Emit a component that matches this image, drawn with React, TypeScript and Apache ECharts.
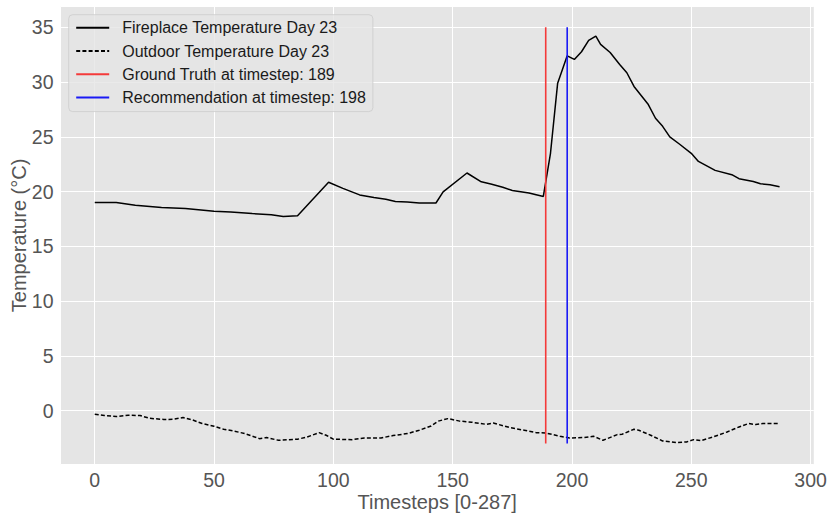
import React, { useEffect, useRef } from "react";
import * as echarts from "echarts";

const fireX = [0, 9, 17, 28, 38, 50, 57, 66, 74, 79, 85, 98, 104, 111, 117, 122, 126, 131, 136, 143, 146, 156, 162, 166, 171, 175, 182, 188, 191, 194, 198, 201, 204, 207, 210, 212, 216, 220, 223, 226, 232, 235, 238, 241, 245, 250, 253, 260, 267, 270, 276, 279, 283, 287];
const fireY = [19.0, 19.0, 18.75, 18.56, 18.47, 18.2, 18.13, 18.0, 17.9, 17.73, 17.8, 20.86, 20.3, 19.7, 19.46, 19.3, 19.1, 19.05, 18.96, 18.96, 19.98, 21.7, 20.9, 20.7, 20.4, 20.1, 19.87, 19.56, 23.5, 29.9, 32.4, 32.07, 32.77, 33.8, 34.2, 33.44, 32.7, 31.6, 30.85, 29.6, 27.95, 26.7, 25.96, 25.0, 24.35, 23.5, 22.76, 21.94, 21.55, 21.18, 20.93, 20.72, 20.63, 20.45];

const outX = [0, 4, 9, 14, 19, 23, 29, 33, 37, 41, 45, 50, 54, 58, 63, 69, 72, 77, 85, 89, 94, 97, 100, 108, 113, 120, 125, 131, 136, 141, 144, 148, 153, 158, 164, 167, 174, 180, 185, 189, 195, 199, 205, 209, 213, 219, 221, 226, 228, 233, 238, 244, 248, 251, 254, 259, 265, 270, 274, 277, 280, 287];
const outY = [-0.32, -0.44, -0.53, -0.41, -0.44, -0.69, -0.8, -0.78, -0.62, -0.84, -1.17, -1.42, -1.69, -1.84, -2.09, -2.55, -2.45, -2.7, -2.6, -2.4, -2.0, -2.24, -2.6, -2.64, -2.49, -2.49, -2.27, -2.09, -1.78, -1.39, -0.95, -0.72, -0.95, -1.05, -1.24, -1.12, -1.54, -1.78, -2.0, -2.03, -2.33, -2.49, -2.45, -2.33, -2.7, -2.18, -2.15, -1.69, -1.78, -2.24, -2.76, -2.91, -2.85, -2.64, -2.73, -2.4, -1.94, -1.48, -1.17, -1.26, -1.17, -1.17];

const groundTruthStep = 189;
const recommendStep = 198;
const vlineSpan = [-3, 35];

const seriesNames = [
  "Fireplace Temperature Day 23",
  "Outdoor Temperature Day 23",
  "Ground Truth at timestep: 189",
  "Recommendation at timestep: 198",
];

const xLabel = "Timesteps [0-287]";
const yLabel = "Temperature (°C)";

const FONT = "'Liberation Sans', Arial, sans-serif";

export default function App() {
  const ref = useRef<HTMLDivElement>(null);
  useEffect(() => {
    document.body.style.margin = "0";
    const chart = echarts.init(ref.current!, null, { renderer: "svg" });
    const zip = (xs: number[], ys: number[]) => xs.map((x, i) => [x, ys[i]]);
    const hiddenSymbol = { opacity: 0, borderWidth: 0 };
    chart.setOption({
      animation: false,
      backgroundColor: "#ffffff",
      textStyle: { fontFamily: FONT },
      grid: {
        left: 60.5,
        top: 6.5,
        width: 753.3,
        height: 457.9,
        backgroundColor: "#E5E5E5",
        show: true,
        borderWidth: 0,
        containLabel: false,
        outerBoundsMode: "none",
      },
      legend: {
        data: seriesNames,
        orient: "vertical",
        left: 68.7,
        top: 14.7,
        padding: [5, 7, 6, 6.5],
        itemWidth: 33,
        itemHeight: 16,
        itemGap: 7.3,
        backgroundColor: "rgba(229,229,229,0.8)",
        borderColor: "rgba(204,204,204,0.8)",
        borderWidth: 1,
        borderRadius: 4,
        itemStyle: { opacity: 0, borderWidth: 0 },
        textStyle: {
          fontSize: 16,
          lineHeight: 16,
          color: "#1a1a1a",
          fontFamily: FONT,
          padding: [0, 0, 0, 8],
        },
      },
      xAxis: {
        type: "value",
        min: -14.35,
        max: 301.35,
        minInterval: 50,
        maxInterval: 50,
        axisLine: { show: false },
        axisTick: { show: false },
        splitLine: { show: true, lineStyle: { color: "#ffffff", width: 1 } },
        axisLabel: {
          showMinLabel: false,
          showMaxLabel: false,
          color: "#555555",
          fontSize: 19.5,
          fontFamily: FONT,
          margin: 6,
        },
        name: xLabel,
        nameLocation: "middle",
        nameGap: 28,
        nameMoveOverlap: false,
        nameTextStyle: { color: "#555555", fontSize: 20, fontFamily: FONT },
      },
      yAxis: {
        type: "value",
        min: -4.9,
        max: 36.9,
        minInterval: 5,
        maxInterval: 5,
        axisLine: { show: false },
        axisTick: { show: false },
        splitLine: { show: true, lineStyle: { color: "#ffffff", width: 1 } },
        axisLabel: {
          showMinLabel: false,
          showMaxLabel: false,
          color: "#555555",
          fontSize: 19.5,
          fontFamily: FONT,
          margin: 7,
        },
        name: yLabel,
        nameLocation: "middle",
        nameGap: 32,
        nameMoveOverlap: false,
        nameTextStyle: { color: "#555555", fontSize: 20, fontFamily: FONT },
      },
      series: [
        {
          name: seriesNames[0],
          type: "line",
          data: zip(fireX, fireY),
          symbol: "none",
          lineStyle: { color: "#000000", width: 1.5 },
          itemStyle: { color: "#000000", ...hiddenSymbol },
          z: 3,
        },
        {
          name: seriesNames[1],
          type: "line",
          data: zip(outX, outY),
          symbol: "none",
          lineStyle: { color: "#000000", width: 1.5, type: [4, 2.2] },
          itemStyle: { color: "#000000", ...hiddenSymbol },
          z: 3,
        },
        {
          name: seriesNames[2],
          type: "line",
          data: vlineSpan.map((v) => [groundTruthStep, v]),
          symbol: "none",
          lineStyle: { color: "#F43A3A", width: 1.6 },
          itemStyle: { color: "#F43A3A", ...hiddenSymbol },
          z: 4,
        },
        {
          name: seriesNames[3],
          type: "line",
          data: vlineSpan.map((v) => [recommendStep, v]),
          symbol: "none",
          lineStyle: { color: "#1a1aF5", width: 1.6 },
          itemStyle: { color: "#1a1aF5", ...hiddenSymbol },
          z: 4,
        },
      ],
    });
    return () => chart.dispose();
  }, []);
  return <div ref={ref} style={{ width: 831, height: 516 }} />;
}
